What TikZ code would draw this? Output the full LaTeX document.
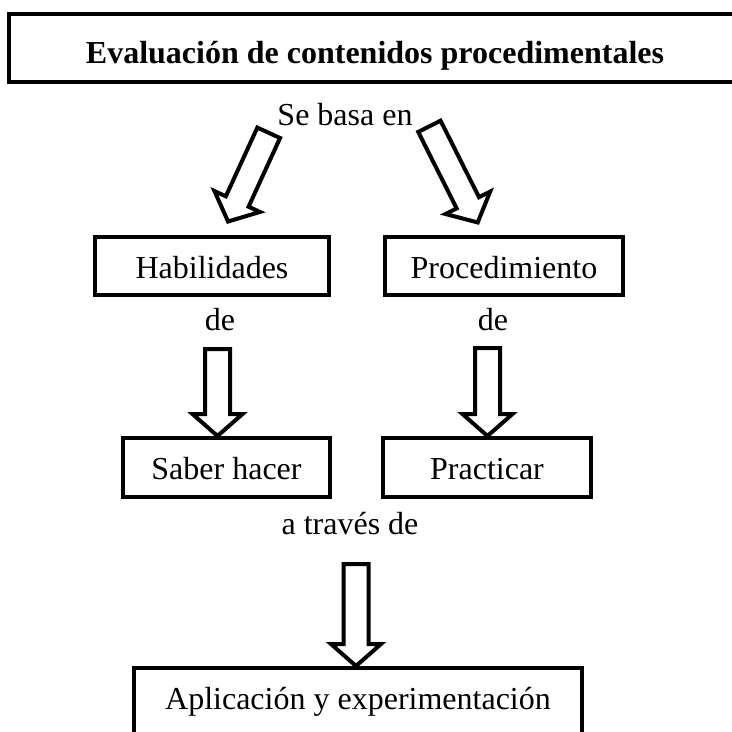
\documentclass[tikz,border=0pt]{standalone}
\usepackage{fontspec}
\setmainfont{Liberation Serif}
\usetikzlibrary{calc}
\newcommand{\tamano}{\fontsize{32}{38}\selectfont}

\tikzset{
    caja/.style={draw, line width=4pt, inner sep=0pt, text height=27pt, text depth=3pt},
    etiqueta/.style={anchor=base, inner sep=0pt},
    hueca/.style={draw, line width=4pt, to path={
        let \p1=(\tikztostart), \p2=(\tikztotarget),
            \n1={atan2(\y2-\y1,\x2-\x1)}, \n2={veclen(\x2-\x1,\y2-\y1)} in
        {[shift={(\p1)}, rotate=\n1]
            (0pt,-12.5pt) -- (\n2-22pt,-12.5pt) -- (\n2-22pt,-25pt) -- (\n2,0pt)
            -- (\n2-22pt,25pt) -- (\n2-22pt,12.5pt) -- (0pt,12.5pt) -- cycle}}}
}

\begin{document}
\begin{tikzpicture}[x=1pt, y=-1pt, font=\tamano]
    \useasboundingbox (0,0) rectangle (732,732);
    \clip (0,0) rectangle (732,732);

    \node[caja, font=\tamano\bfseries, text height=30pt, text depth=0pt,
        minimum width=732, minimum height=68] (titulo) at (375,48)
        {Evaluación de contenidos procedimentales};

    \node[etiqueta] (sebasa) at (345,125) {Se basa en};

    \node[caja, minimum width=234, minimum height=58] (habil) at (212,266) {Habilidades};
    \node[caja, minimum width=238, minimum height=58] (proced) at (504,266) {Procedimiento};

    \node[etiqueta] (deA) at (220,330) {de};
    \node[etiqueta] (deB) at (493,330) {de};

    \node[caja, minimum width=207, minimum height=59] (saber) at (226.5,467.5) {Saber hacer};
    \node[caja, minimum width=208, minimum height=59] (practicar) at (487,467.5) {Practicar};

    \node[etiqueta] (traves) at (350,534) {a través de};

    \node[caja, text depth=13pt, minimum width=448, minimum height=68] (aplic) at (358,702)
        {Aplicación y experimentación};

    \coordinate (sbA) at (268.7,132.8);
    \coordinate (hbA) at (228,221.6);
    \coordinate (sbB) at (429.4,126.3);
    \coordinate (prB) at (477.8,222.6);
    \coordinate (dA) at (217.5,349);
    \coordinate (dB) at (487.5,348);
    \coordinate (dC) at (356,564);

    \draw[hueca] (sbA) to (hbA);
    \draw[hueca] (sbB) to (prB);
    \draw[hueca] (dA) to (dA |- saber.north);
    \draw[hueca] (dB) to (dB |- practicar.north);
    \draw[hueca] (dC) to (dC |- aplic.north);
\end{tikzpicture}
\end{document}
